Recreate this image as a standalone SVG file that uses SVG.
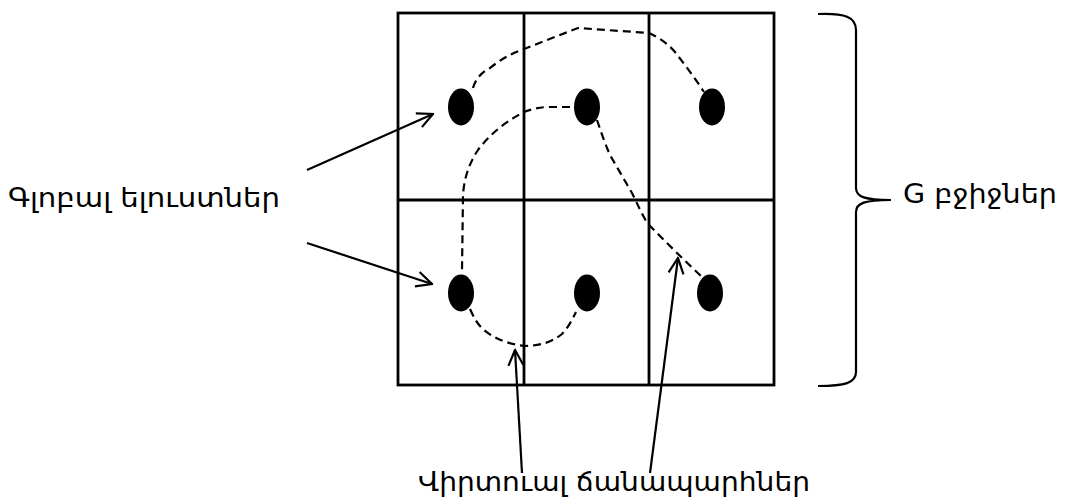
<svg xmlns="http://www.w3.org/2000/svg" width="1065" height="497" viewBox="0 0 1065 497">
<style>
.grid{fill:none;stroke:#000;stroke-width:2.8}
.dot{fill:#000}
.dash{fill:none;stroke:#000;stroke-width:2.2;stroke-dasharray:8 5}
.arr{fill:none;stroke:#000;stroke-width:2.2;marker-end:url(#open)}
.lbl{font-family:"DejaVu Sans","Noto Sans",sans-serif;font-size:27px;fill:#000}
</style>
<defs>
<marker id="open" viewBox="0 0 18 18" refX="16.5" refY="9" markerWidth="18" markerHeight="18" markerUnits="userSpaceOnUse" orient="auto">
<path d="M1,1.5 L16.5,9 L1,16.5" fill="none" stroke="#000" stroke-width="2.2"/>
</marker>
</defs>
<rect width="1065" height="497" fill="#fff"/>
<g id="grid">
<rect class="grid" x="398" y="13" width="376" height="372"/>
<line class="grid" x1="524" y1="13" x2="524" y2="385"/>
<line class="grid" x1="649" y1="13" x2="649" y2="385"/>
<line class="grid" x1="398" y1="200" x2="774" y2="200"/>
</g>
<g id="cell-dots">
<ellipse class="dot" cx="461" cy="107" rx="13" ry="18.5"/>
<ellipse class="dot" cx="587" cy="107" rx="13" ry="18.5"/>
<ellipse class="dot" cx="712" cy="107" rx="13" ry="18.5"/>
<ellipse class="dot" cx="461" cy="293" rx="13" ry="18.5"/>
<ellipse class="dot" cx="587" cy="293" rx="13" ry="18.5"/>
<ellipse class="dot" cx="710" cy="293" rx="13" ry="18.5"/>
</g>
<g id="connectors">
<path class="dash" d="M473,88 C476,78 482,72 490,68 C500,60 510,54 524,49 L578,28 L649,33 C660,38 668,44 675,52 C685,65 695,78 704,92"/>
<path class="dash" d="M570,107 L550,107 C540,107 532,109 524,112 C505,122 490,134 478,150 C468,165 464,180 463,195 L462,270"/>
<path class="dash" d="M597,120 C602,135 606,146 610,155 L632,193 C638,205 642,215 648,224 L677,253 L702,277"/>
<path class="dash" d="M470,309 C474,318 478,325 484,330 C496,340 510,344 524,346 C540,346 552,342 562,334 C568,328 572,320 576,312"/>
<path class="arr" d="M307,170 L433,114"/>
<path class="arr" d="M307,243 L432,284"/>
<path class="arr" d="M522,473 L515,350"/>
<path class="arr" d="M650,473 L678,258"/>
<path fill="none" stroke="#000" stroke-width="2.2" d="M818,14 C845,13 856,17 856,30 L856,188 C856,197 865,200 891,200 C865,200 856,203 856,212 L856,372 C856,383 845,386 818,386"/>
</g>
<g id="labels">
<text class="lbl" x="8" y="207" textLength="272" lengthAdjust="spacingAndGlyphs">Գլոբալ ելուստներ</text>
<text class="lbl" x="418" y="491" textLength="392" lengthAdjust="spacingAndGlyphs">Վիրտուալ ճանապարհներ</text>
<text class="lbl" x="903" y="203" textLength="154" lengthAdjust="spacingAndGlyphs">G բջիջներ</text>
</g>
</svg>
